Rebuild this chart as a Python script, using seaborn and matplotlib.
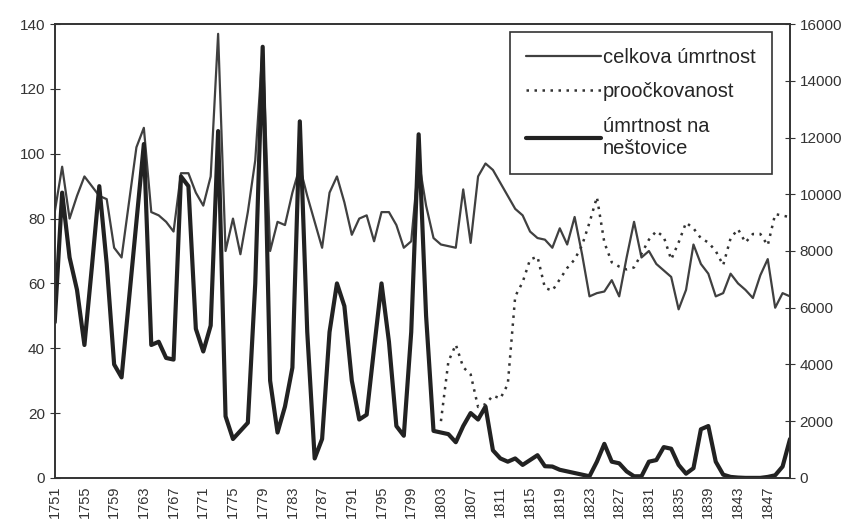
import numpy as np
import pandas as pd
import matplotlib
matplotlib.use("Agg")
import matplotlib.pyplot as plt
from matplotlib.lines import Line2D
import seaborn as sns

# data
roky = list(range(1751, 1851))

celkova = [82, 96, 80, 87, 93, 90, 87, 86, 71, 68,
           85, 102, 108, 82, 81, 79, 76, 94, 94, 88,
           84, 93, 137, 70, 80, 69, 82, 98, 133, 70,
           79, 78, 88, 96, 87, 79, 71, 88, 93, 85,
           75, 80, 81, 73, 82, 82, 78, 71, 73, 98,
           84, 74, 72, 71.5, 71, 89, 72.5, 93, 97, 95,
           91, 87, 83, 81, 76, 74, 73.5, 71, 77, 72,
           80.5, 69, 56, 57, 57.5, 61, 56, 68, 79, 68,
           70, 66, 64, 62, 52, 58, 72, 66, 63, 56,
           57, 63, 60, 58, 55.5, 62.5, 67.5, 52.5, 57, 56]

nestovice = [48, 88, 68, 58, 41, 65, 90, 66, 35, 31,
             55, 79, 103, 41, 42, 37, 36.5, 93, 90, 46,
             39, 47, 107, 19, 12, 14.5, 17, 60, 133, 30,
             14, 22, 34, 110, 45, 6, 12, 45, 60, 53,
             30, 18, 19.5, 40, 60, 42, 16, 13, 45, 106,
             50, 14.5, 14, 13.5, 11, 16, 20, 18, 22, 8.5,
             6, 5, 6, 4, 5.5, 7, 3.6, 3.5, 2.5, 2,
             1.5, 1, 0.5, 5, 10.5, 5, 4.5, 2, 0.5, 0.5,
             5, 5.5, 9.5, 9, 4, 1.3, 3, 15, 16, 5,
             1, 0.3, 0.1, 0, 0, 0, 0.3, 0.8, 3.5, 12]

ockovani_roky = list(range(1803, 1851))
ockovani = [2000, 4100, 4700, 3900, 3650, 2500, 2600, 2900, 2800, 3300,
            6400, 6900, 7700, 7800, 6700, 6600, 7000, 7400, 7700, 8200,
            9000, 9900, 8300, 7600, 7450, 7350, 7420, 7900, 8400, 8700,
            8500, 7700, 8300, 9000, 8800, 8450, 8300, 8000, 7500, 8450,
            8770, 8300, 8600, 8600, 8200, 9300, 9250, 9190]

sns.set_style("white")
plt.rcParams["font.family"] = ["Liberation Sans", "DejaVu Sans"]
plt.rcParams["axes.linewidth"] = 1.2
plt.rcParams["axes.edgecolor"] = "#333333"

df = pd.DataFrame({"rok": roky, "celkova": celkova, "nestovice": nestovice})
df_ock = pd.DataFrame({"rok": ockovani_roky, "ockovani": ockovani})

fig, ax = plt.subplots(figsize=(8.55, 5.24), dpi=100)
fig.subplots_adjust(left=0.064, right=0.924, top=0.954, bottom=0.088)
ax2 = ax.twinx()

thin = dict(color="#404040", lw=1.6)
thick = dict(color="#222222", lw=3.0)
dots = dict(color="#333333", lw=1.8, dashes=(1, 2.2))

sns.lineplot(data=df, x="rok", y="celkova", ax=ax, legend=False, **thin)
sns.lineplot(data=df, x="rok", y="nestovice", ax=ax, legend=False, **thick)
sns.lineplot(data=df_ock, x="rok", y="ockovani", ax=ax2, legend=False,
             color=dots["color"], lw=dots["lw"], linestyle=(0, dots["dashes"]))

ax.set_xlim(1751, 1850)
ax.set_ylim(0, 140)
ax2.set_ylim(0, 16000)
ax.set_yticks(range(0, 141, 20))
ax2.set_yticks(range(0, 16001, 2000))
ax.set_xticks(roky[::4])
ax.set_xticks(roky, minor=True)
ax.set_xticklabels([str(r) for r in roky[::4]], rotation=90)

ax.set_xlabel("")
ax.set_ylabel("")
ax2.set_ylabel("")

ax.tick_params(axis="y", direction="inout", length=7, labelsize=11, colors="#333333")
ax2.tick_params(axis="y", direction="inout", length=7, labelsize=11, colors="#333333")
ax.tick_params(axis="x", which="both", direction="inout", length=7, width=1,
               labelsize=10.5, pad=2, colors="#333333")

handles = [Line2D([], [], **thin),
           Line2D([], [], color=dots["color"], lw=dots["lw"], linestyle=(0, dots["dashes"])),
           Line2D([], [], **thick)]
labels = ["celkova úmrtnost", "proočkovanost", "úmrtnost na\nneštovice"]
leg = ax2.legend(handles, labels, loc="upper right", bbox_to_anchor=(0.975, 0.982),
                 frameon=True, fancybox=False, edgecolor="#333333", framealpha=1,
                 fontsize=14.5, handlelength=3.7, handletextpad=0.1,
                 labelspacing=0.75, borderpad=0.8, borderaxespad=0)
leg.get_frame().set_linewidth(1.2)

fig.savefig("out.png", dpi=100)
